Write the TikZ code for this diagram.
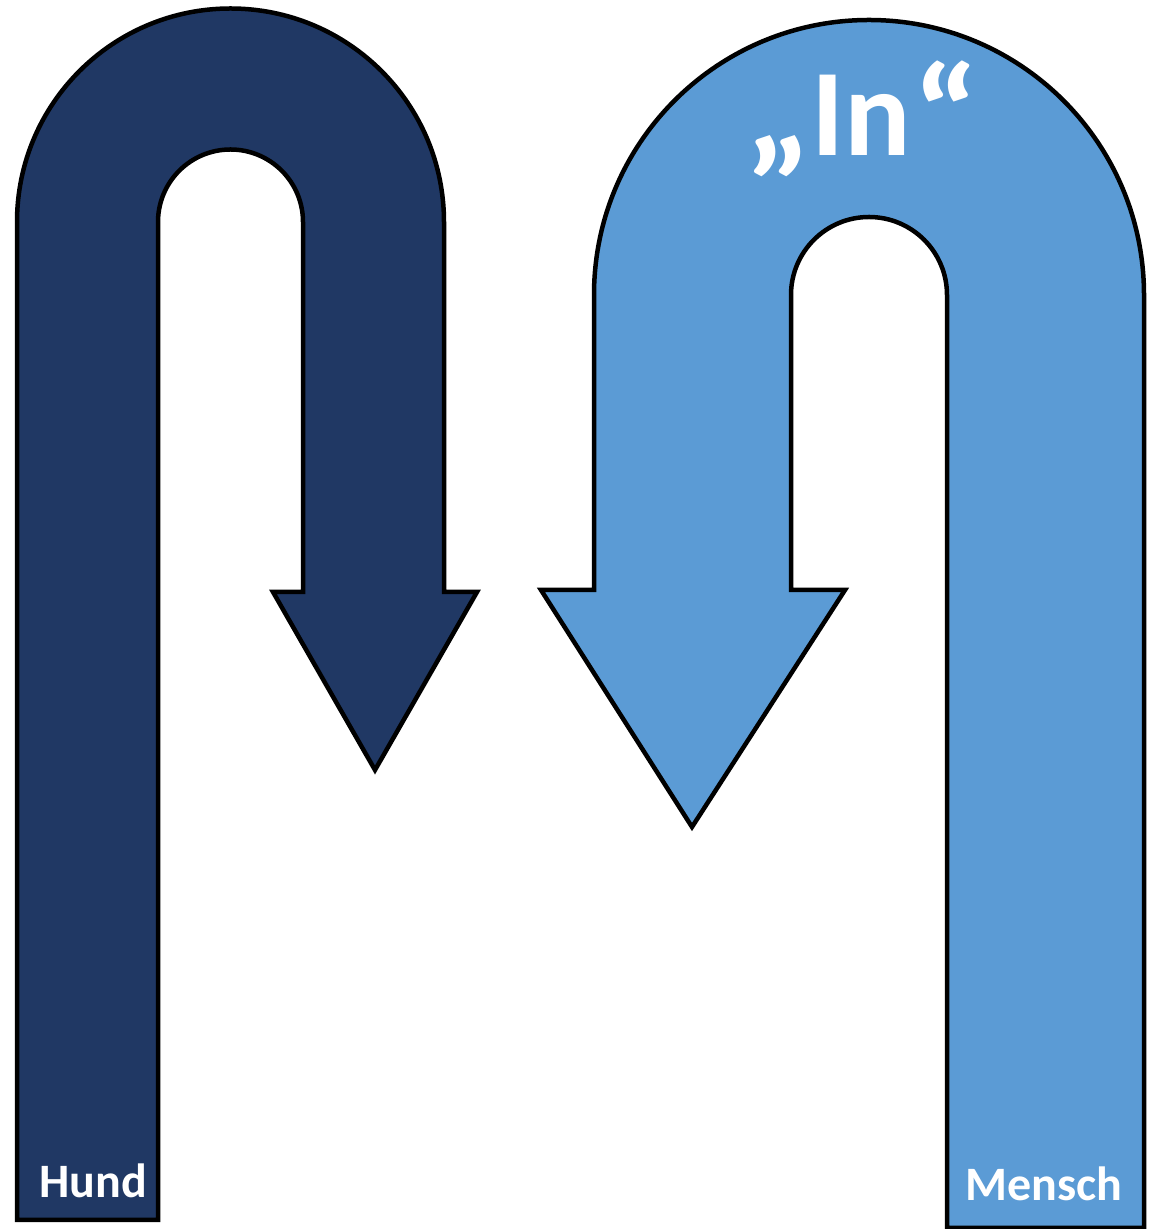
\documentclass[tikz,border=0pt]{standalone}
\usepackage{fontspec}
\setmainfont{Carlito}
\definecolor{navy}{HTML}{203864}
\definecolor{skyb}{HTML}{5B9BD5}
\begin{document}
\begin{tikzpicture}[x=1pt,y=1pt,
  ushape/.style={draw=black,line width=4.5pt,line join=miter},
  lbl/.style={text=white,font=\bfseries,anchor=base,inner sep=0pt}]
\useasboundingbox (0,0) rectangle (1149,1229);
% left U-arrow (Hund)
\path[ushape,fill=navy] (17,9) -- (17,1007) arc[start angle=180,end angle=0,radius=213.5]
  -- (444,637) -- (477,637) -- (375,459) -- (273,637) -- (303,637)
  -- (303,1007) arc[start angle=0,end angle=180,radius=72.5] -- (158,9) -- cycle;
% right U-arrow (Mensch)
\path[ushape,fill=skyb] (1144,1) -- (1144,934) arc[start angle=0,end angle=180,radius=275]
  -- (594,639) -- (541,639) -- (692,402) -- (845,639) -- (791,639)
  -- (791,934) arc[start angle=180,end angle=0,radius=78] -- (947,1) -- cycle;
\node[lbl,font=\bfseries\fontsize{48}{52}\selectfont] (hund) at (93,31) {Hund};
\node[lbl,font=\bfseries\fontsize{48}{52}\selectfont] (mensch) at (1044,28) {Mensch};
\node[lbl,font=\bfseries\fontsize{124}{130}\selectfont] (in) at (862,1073) {\scalebox{1.25}[1.1]{„}In\kern1pt\raisebox{-6pt}{\scalebox{1.25}[1.1]{“}}};
\end{tikzpicture}
\end{document}
